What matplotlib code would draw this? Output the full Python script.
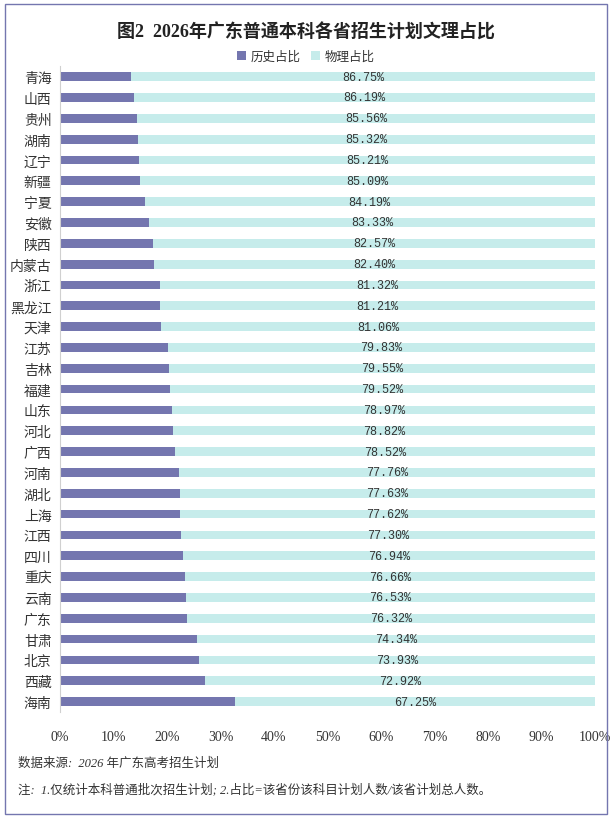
import matplotlib
matplotlib.use("Agg")
import matplotlib.pyplot as plt
from matplotlib.patches import Rectangle
from matplotlib.ticker import FuncFormatter

provinces = ["青海", "山西", "贵州", "湖南", "辽宁", "新疆", "宁夏", "安徽", "陕西", "内蒙古",
             "浙江", "黑龙江", "天津", "江苏", "吉林", "福建", "山东", "河北", "广西", "河南",
             "湖北", "上海", "江西", "四川", "重庆", "云南", "广东", "甘肃", "北京", "西藏", "海南"]
physics = [86.75, 86.19, 85.56, 85.32, 85.21, 85.09, 84.19, 83.33, 82.57, 82.40,
           81.32, 81.21, 81.06, 79.83, 79.55, 79.52, 78.97, 78.82, 78.52, 77.76,
           77.63, 77.62, 77.30, 76.94, 76.66, 76.53, 76.32, 74.34, 73.93, 72.92, 67.25]
history = [round(100 - p, 2) for p in physics]
xticks = [0, 10, 20, 30, 40, 50, 60, 70, 80, 90, 100]

title = "图2  2026年广东普通本科各省招生计划文理占比"
legend_labels = ["历史占比", "物理占比"]
source = "数据来源:  2026 年广东高考招生计划"
note = "注:  1.仅统计本科普通批次招生计划; 2.占比=该省份该科目计划人数/该省计划总人数。"

C_HIST = "#7476AF"
C_PHYS = "#C6ECEB"
TXT = "#333333"
SERIF = ["Liberation Serif", "Noto Sans CJK SC"]
plt.rcParams["font.family"] = SERIF

fig = plt.figure(figsize=(6.12, 8.2), dpi=100)
n = len(provinces)
ax = fig.add_axes([0.098, 0.1305, 0.874, 0.7875])
ypos = list(range(n))
ax.barh(ypos, history, height=0.42, color=C_HIST, label=legend_labels[0])
ax.barh(ypos, physics, left=history, height=0.42, color=C_PHYS, label=legend_labels[1])
for y, h, p in zip(ypos, history, physics):
    ax.text(h + p / 2, y, f"{p:.2f}%", ha="center", va="center", fontsize=8.5,
            color=TXT, family=["Liberation Mono"])

ax.set_xlim(0, 100)
ax.set_ylim(n - 0.5, -0.5)
ax.set_yticks(ypos)
ax.set_yticklabels(provinces, fontsize=10, color=TXT, family=["Noto Sans CJK SC"])
ax.set_xticks(xticks)
ax.xaxis.set_major_formatter(FuncFormatter(lambda v, _: f"{v:.0f}%"))
for lbl in ax.get_xticklabels():
    lbl.set_fontsize(10)
    lbl.set_color(TXT)
ax.tick_params(axis="both", length=0)
ax.tick_params(axis="x", pad=13)
ax.tick_params(axis="y", pad=6)
for s in ["top", "right", "bottom"]:
    ax.spines[s].set_visible(False)
ax.spines["left"].set_color("#D0D0D0")

fig.text(0.5, 0.961, title, ha="center", va="center", fontsize=13, fontweight="bold",
         color="#222222", family=SERIF)
leg = fig.legend(loc="center", bbox_to_anchor=(0.5, 0.930), ncol=2, frameon=False,
                 handlelength=0.7, handleheight=0.7, columnspacing=0.8,
                 handletextpad=0.4, prop={"family": ["Noto Sans CJK SC"], "size": 9})
for t in leg.get_texts():
    t.set_color(TXT)

fig.text(0.03, 0.069, source, ha="left", va="center", fontsize=9, style="italic", color=TXT)
fig.text(0.03, 0.037, note, ha="left", va="center", fontsize=9, style="italic", color=TXT)

fig.patches.append(Rectangle((0.008, 0.006), 0.984, 0.988, transform=fig.transFigure,
                             fill=False, edgecolor="#7476AF", linewidth=1.0))

fig.savefig("out.png", dpi=100)
